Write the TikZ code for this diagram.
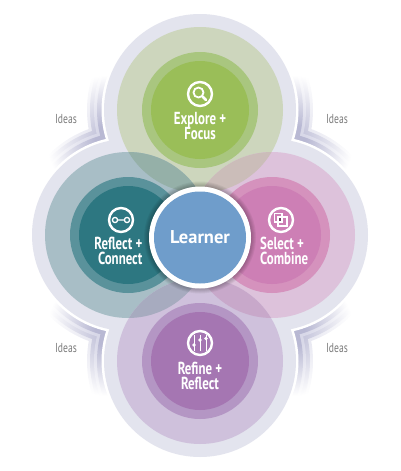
\documentclass[tikz,border=0pt]{standalone}
\usepackage{fontspec}
\setmainfont[FakeStretch=0.74]{PT Sans}
\newfontfamily\lrnfont{PT Sans}
\definecolor{halo}{HTML}{E3E4EE}
\definecolor{gL}{HTML}{CDD6BD}\definecolor{gM}{HTML}{A9C67F}\definecolor{gI}{HTML}{9ABE58}
\definecolor{tL}{HTML}{A8BEC6}\definecolor{tM}{HTML}{5A929B}\definecolor{tI}{HTML}{2D7781}
\definecolor{pL}{HTML}{DDC2DB}\definecolor{pM}{HTML}{D592BD}\definecolor{pI}{HTML}{CD7FB5}
\definecolor{vL}{HTML}{CFC1DC}\definecolor{vM}{HTML}{B496C4}\definecolor{vI}{HTML}{A576B2}
\definecolor{lensTL}{HTML}{95B0A8}\definecolor{lensTR}{HTML}{CBBDB9}
\definecolor{lensBL}{HTML}{A7ABBF}\definecolor{lensBR}{HTML}{C8A8CA}
\definecolor{blueC}{HTML}{6F9DCB}
\definecolor{ba}{HTML}{E6E6F0}\definecolor{bb}{HTML}{C8C8DD}
\definecolor{bc}{HTML}{D8D8E8}\definecolor{bd}{HTML}{B8B8D3}
\pgfdeclareradialshading{sa}{\pgfpoint{0bp}{0bp}}{color(0bp)=(ba);color(5bp)=(ba);color(25bp)=(white);color(50bp)=(white)}
\pgfdeclareradialshading{sb}{\pgfpoint{0bp}{0bp}}{color(0bp)=(bb);color(5bp)=(bb);color(25bp)=(white);color(50bp)=(white)}
\pgfdeclareradialshading{sc}{\pgfpoint{0bp}{0bp}}{color(0bp)=(bc);color(5bp)=(bc);color(25bp)=(white);color(50bp)=(white)}
\pgfdeclareradialshading{sd}{\pgfpoint{0bp}{0bp}}{color(0bp)=(bd);color(5bp)=(bd);color(25bp)=(white);color(50bp)=(white)}
\tikzset{
  disc/.style={circle,inner sep=0pt,minimum size=#1},
  stagelabel/.style={text=white,font=\fontsize{17.4}{15.8}\selectfont\bfseries,inner sep=0pt},
  ideaslabel/.style={text=black!52,font=\fontsize{13}{13}\selectfont,inner sep=0pt},
  iconring/.style={draw=white,line width=2.4pt},
  iconline/.style={draw=white,line width=1.3pt},
}
\begin{document}
\begin{tikzpicture}[x=1pt,y=-1pt]
\useasboundingbox (0,0) rectangle (400,471);
\coordinate (T) at (200,110);
\coordinate (L) at (128,235);
\coordinate (R) at (272,235);
\coordinate (B) at (200,361);
\coordinate (C) at (200,237.5);
\coordinate (nTL) at (107,137);
\coordinate (nTR) at (293,137);
\coordinate (nBL) at (107,334);
\coordinate (nBR) at (293,334);
% idea ribbons
\foreach \pa/\pb/\nn in {T/L/nTL,T/R/nTR,B/L/nBL,B/R/nBR}{
  \foreach \rad/\sh in {113/sa,110/sb,106/sc,103/sd}{
    \begin{scope}
      \clip (\pa) circle[radius=\rad pt] (\pb) circle[radius=\rad pt];
      \shade[shading=\sh] (\nn) circle[radius=62pt];
    \end{scope}
  }
}
\fill[white] (T) circle[radius=98.5pt] (L) circle[radius=98.5pt] (R) circle[radius=98.5pt] (B) circle[radius=98.5pt];
% halos
\fill[halo] (T) circle[radius=96pt] (L) circle[radius=96pt] (R) circle[radius=96pt] (B) circle[radius=96pt];
% light circles
\fill[gL] (T) circle[radius=83pt];
\fill[tL] (L) circle[radius=83pt];
\fill[pL] (R) circle[radius=83pt];
\fill[vL] (B) circle[radius=83pt];
\begin{scope}\clip (T) circle[radius=83pt];\fill[lensTL] (L) circle[radius=83pt];\fill[lensTR] (R) circle[radius=83pt];\end{scope}
\begin{scope}\clip (B) circle[radius=83pt];\fill[lensBL] (L) circle[radius=83pt];\fill[lensBR] (R) circle[radius=83pt];\end{scope}
% mid and inner circles
\fill[gM] (T) circle[radius=58pt];\fill[gI] (T) circle[radius=49pt];
\fill[tM] (L) circle[radius=58pt];\fill[tI] (L) circle[radius=49pt];
\fill[pM] (R) circle[radius=58pt];\fill[pI] (R) circle[radius=49pt];
\fill[vM] (B) circle[radius=58pt];\fill[vI] (B) circle[radius=49pt];
% learner
\foreach \r in {56,55,54,53,52}{\fill[black,opacity=0.05] (C) circle[radius=\r pt];}
\fill[white] (C) circle[radius=51pt];
\node[disc=92pt,fill=blueC,text=white,font=\lrnfont\fontsize{18.5}{20}\selectfont\bfseries] (learner) at (C) {Learner};
% labels
\node[stagelabel,align=center] (explore) at (200,126) {Explore +\\Focus};
\node[stagelabel,align=right,anchor=east] (reflect) at (142.5,251) {Reflect +\\Connect};
\node[stagelabel,align=left,anchor=west] (select) at (260,251) {Select +\\Combine};
\node[stagelabel,align=center] (refine) at (200,376) {Refine +\\Reflect};
\node[ideaslabel] (i1) at (66,119) {Ideas};
\node[ideaslabel] (i2) at (337,119) {Ideas};
\node[ideaslabel] (i3) at (66,348) {Ideas};
\node[ideaslabel] (i4) at (337,348) {Ideas};
% explore icon
\draw[iconring] (200,94) circle[radius=12pt];
\draw[draw=white,line width=1.8pt] (198.5,92.5) circle[radius=5pt];
\draw[draw=white,line width=2.6pt,line cap=round] (202.5,96.5) -- (206,100);
% reflect icon
\draw[iconring] (121,220) circle[radius=12pt];
\draw[iconline] (115,220) circle[radius=2.6pt] (127,220) circle[radius=2.6pt] (117.6,220) -- (124.4,220);
% select icon
\draw[iconring] (281,220) circle[radius=12pt];
\fill[black!45!pI] (278,217) rectangle (282,222);
\draw[iconline] (274.5,213.5) rectangle (282,222);
\draw[iconline] (278,217) rectangle (287,226);
% refine icon
\draw[iconring] (200,343) circle[radius=12pt];
\draw[iconline,line width=1pt] (194,335) -- (194,351) (200,335) -- (200,351) (206,335) -- (206,351);
\fill[white] (194,345) circle[radius=1.8pt] (200,340) circle[radius=1.8pt] (206,338.5) circle[radius=1.8pt];
\end{tikzpicture}
\end{document}
